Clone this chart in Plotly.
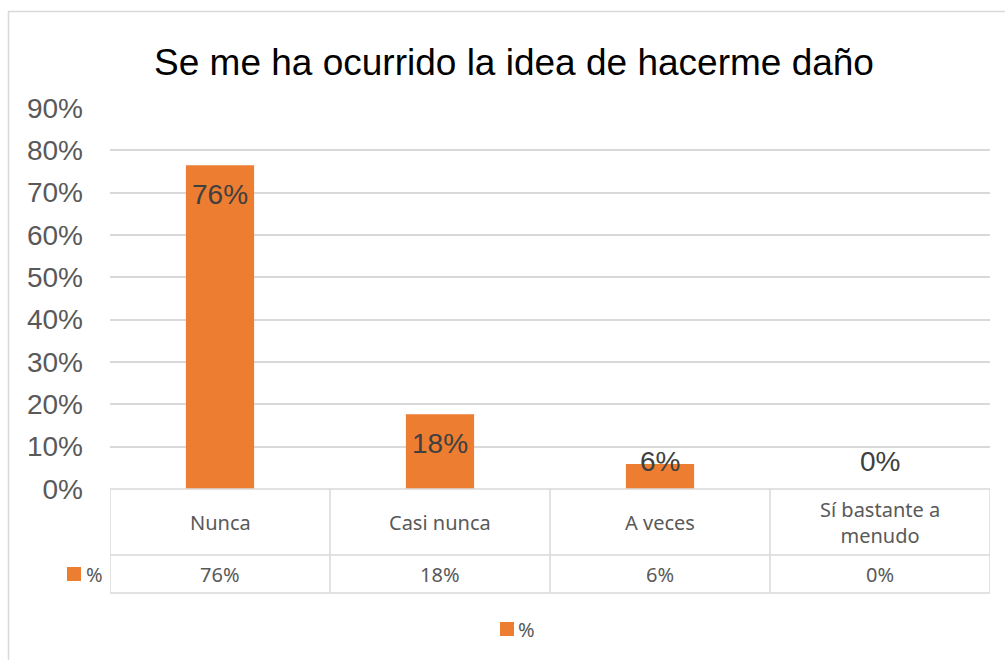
import plotly.graph_objects as go

categories = ["Nunca", "Casi nunca", "A veces", "Sí bastante a menudo"]
table_headers = ["Nunca", "Casi nunca", "A veces", "Sí bastante a<br>menudo"]
values = [13/17, 3/17, 1/17, 0.0]
labels = ["76%", "18%", "6%", "0%"]
series_name = "%"
title_text = "Se me ha ocurrido la idea de hacerme daño"
y_ticks = [0, 0.1, 0.2, 0.3, 0.4, 0.5, 0.6, 0.7, 0.8, 0.9]
y_tick_text = ["0%", "10%", "20%", "30%", "40%", "50%", "60%", "70%", "80%", "90%"]

ORANGE = "#ED7D31"
GRID = "#D9D9D9"
W, H = 1005, 660
ML, MR, MT, MB = 110, 15, 108, 171
PW = W - ML - MR
PH = H - MT - MB
YMAX = 0.9


def py(pix):  # pixel y -> paper y
    return (H - MB - pix) / PH


def px(pix):  # pixel x -> paper x
    return (pix - ML) / PW


n = len(categories)
xs = list(range(n))

fig = go.Figure()
fig.add_trace(go.Bar(
    x=xs, y=values, name=series_name, marker=dict(color=ORANGE, line=dict(width=0)),
    width=0.31, showlegend=False, hoverinfo="skip",
))

# data labels
per_px = YMAX / PH
for i, (v, t) in enumerate(zip(values, labels)):
    ly = max(v - 29 * per_px, 28 * per_px)
    fig.add_annotation(x=i, y=ly, xref="x", yref="y", text=t, showarrow=False,
                       yanchor="middle", font=dict(family="Liberation Sans, Arial", size=28, color="#404040"))

shapes = []
line = dict(color=GRID, width=1.5)
# header top
shapes.append(dict(type="line", xref="x", yref="paper", x0=-0.5, x1=n - 0.5, y0=py(489), y1=py(489), line=line))
left_x = -0.5 - (110 - 58) / (PW / n)
for yy in (555, 593):
    shapes.append(dict(type="line", xref="x", yref="paper", x0=left_x, x1=n - 0.5, y0=py(yy), y1=py(yy), line=line))
for k in range(n + 1):
    shapes.append(dict(type="line", xref="x", yref="paper", x0=k - 0.5, x1=k - 0.5, y0=py(489), y1=py(593), line=line))
shapes.append(dict(type="line", xref="x", yref="paper", x0=left_x, x1=left_x, y0=py(555), y1=py(593), line=line))
# legend key in table
shapes.append(dict(type="rect", xref="paper", yref="paper", x0=px(67), x1=px(81), y0=py(567), y1=py(581),
                   fillcolor=ORANGE, line=dict(width=0)))
# bottom legend key
shapes.append(dict(type="rect", xref="paper", yref="paper", x0=px(500), x1=px(514), y0=py(622), y1=py(636),
                   fillcolor=ORANGE, line=dict(width=0)))
# outer chart border
shapes.append(dict(type="rect", xref="paper", yref="paper", x0=px(8.5), x1=px(1012), y0=py(11.5), y1=py(670),
                   fillcolor="rgba(0,0,0,0)", line=dict(color=GRID, width=1.5)))

table_font = dict(family="Noto Sans, Open Sans, sans-serif", size=20, color="#595959")
for i, h in enumerate(table_headers):
    fig.add_annotation(x=i, y=py(522), xref="x", yref="paper", text=h, showarrow=False,
                       yanchor="middle", font=table_font)
for i, t in enumerate(labels):
    fig.add_annotation(x=i, y=py(574), xref="x", yref="paper", text=t, showarrow=False,
                       yanchor="middle", font=table_font)
fig.add_annotation(x=px(84), y=py(574), xref="paper", yref="paper", text=series_name, showarrow=False,
                   xanchor="left", yanchor="middle", xshift=0, font=table_font)
fig.add_annotation(x=px(516), y=py(629), xref="paper", yref="paper", text=series_name, showarrow=False,
                   xanchor="left", yanchor="middle", font=table_font)

fig.update_layout(
    width=W, height=H,
    margin=dict(l=ML, r=MR, t=MT, b=MB),
    paper_bgcolor="white", plot_bgcolor="white",
    title=dict(text=title_text, xref="container", x=514 / W, xanchor="center",
               yref="container", y=1 - 62 / H, yanchor="middle",
               font=dict(family="Liberation Sans, Arial", size=37, color="#000000")),
    xaxis=dict(range=[-0.5, n - 0.5], showticklabels=False, showgrid=False, zeroline=False,
               showline=False, fixedrange=True),
    yaxis=dict(range=[0, YMAX], tickvals=y_ticks, ticktext=y_tick_text, showgrid=True, gridcolor=GRID,
               gridwidth=1.5, zeroline=False, showline=False, ticks="", ticklen=0,
               ticklabelstandoff=26,
               tickfont=dict(family="Liberation Sans, Arial", size=28, color="#595959"), fixedrange=True),
    shapes=shapes,
    showlegend=False,
    bargap=0.69,
)

fig.write_html("out.html")
